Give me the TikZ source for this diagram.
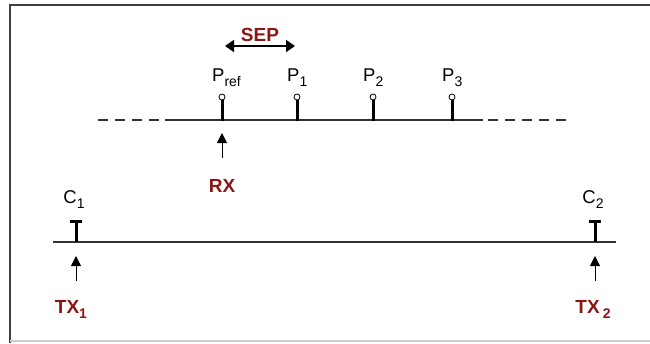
\documentclass[tikz,border=0pt]{standalone}
\usepackage{fontspec}
\setmainfont{Liberation Sans}
\usetikzlibrary{arrows.meta}
\definecolor{tagred}{RGB}{140,22,22}
\newcommand{\lowidx}[1]{\raisebox{-5pt}{\fontsize{14}{16}\selectfont #1}}
\tikzset{
  lbl/.style={font=\fontsize{18.5}{20}\selectfont, inner sep=0pt},
  tag/.style={font=\fontsize{19}{21}\selectfont\bfseries, text=tagred, inner sep=0pt},
  wire/.style={line width=2pt, draw=black!80},
  stem/.style={line width=3pt, draw=black},
  probe/.style={circle, draw=black, fill=white, line width=0.8pt, minimum size=6pt, inner sep=0pt},
  up/.style={-{Triangle[width=10pt,length=10pt]}, line width=1pt},
  span/.style={{Triangle[width=12pt,length=9pt]}-{Triangle[width=12pt,length=9pt]}, line width=1.6pt}
}
\begin{document}
\begin{tikzpicture}[x=1pt,y=-1pt]
\useasboundingbox (0,0) rectangle (650,343);
% frame
\draw[line width=1.5pt, black!75] (10,343) -- (10,5) -- (650,5);
\draw[line width=1.2pt, black!20] (10,341) -- (650,341);

% receiver line
\coordinate (rl0) at (98,120);
\coordinate (rl1) at (160,120);
\coordinate (rl2) at (165,120);
\coordinate (rl3) at (483,120);
\coordinate (rl4) at (488,120);
\coordinate (rl5) at (570,120);
\draw[wire, dash pattern=on 10pt off 7pt] (rl0) -- (rl1);
\draw[wire] (rl2) -- (rl3);
\draw[wire, dash pattern=on 10pt off 7pt] (rl4) -- (rl5);

\foreach \pid/\px/\txt in {pref/222/P\lowidx{ref}, p1/297/P\lowidx{1},
                           p2/373/P\lowidx{2}, p3/452/P\lowidx{3}}
{
    \draw[stem] (\px,121) -- (\px,100);
    \node[probe] (\pid) at (\px,97) {};
    \node[lbl, anchor=base west] (\pid-lbl) at (\px-10,81) {\txt};
}

% spacing
\coordinate (sepL) at (225,46);
\coordinate (sepR) at (295,46);
\draw[span] (sepL) -- (sepR);
\node[tag, anchor=base] (sep) at (260,41) {SEP};

% receiver
\coordinate (rxtail) at (222,158);
\coordinate (rxtip) at (222,133);
\draw[up] (rxtail) -- (rxtip);
\node[tag, anchor=base] (rx) at (222,192) {RX};

% transmitter line
\coordinate (tl0) at (53,242);
\coordinate (tl1) at (616,242);
\draw[wire] (tl0) -- (tl1);
\foreach \cid/\cx/\num in {c1/76/1, c2/595/2}
{
    \draw[stem] (\cx,242) -- (\cx,221);
    \draw[line width=3pt] (\cx-6,221) -- (\cx+6,221);
    \node[lbl, anchor=base] (\cid) at (\cx-2,203) {C\lowidx{\num}};
    \coordinate (\cid-tail) at (\cx,281);
    \coordinate (\cid-tip) at (\cx,256);
    \draw[up] (\cid-tail) -- (\cid-tip);
}
\node[tag, anchor=base] (tx1) at (71,313) {TX\lowidx{\bfseries 1}};
\node[tag, anchor=base] (tx2) at (593,313) {TX\,\lowidx{\bfseries 2}};
\end{tikzpicture}
\end{document}
